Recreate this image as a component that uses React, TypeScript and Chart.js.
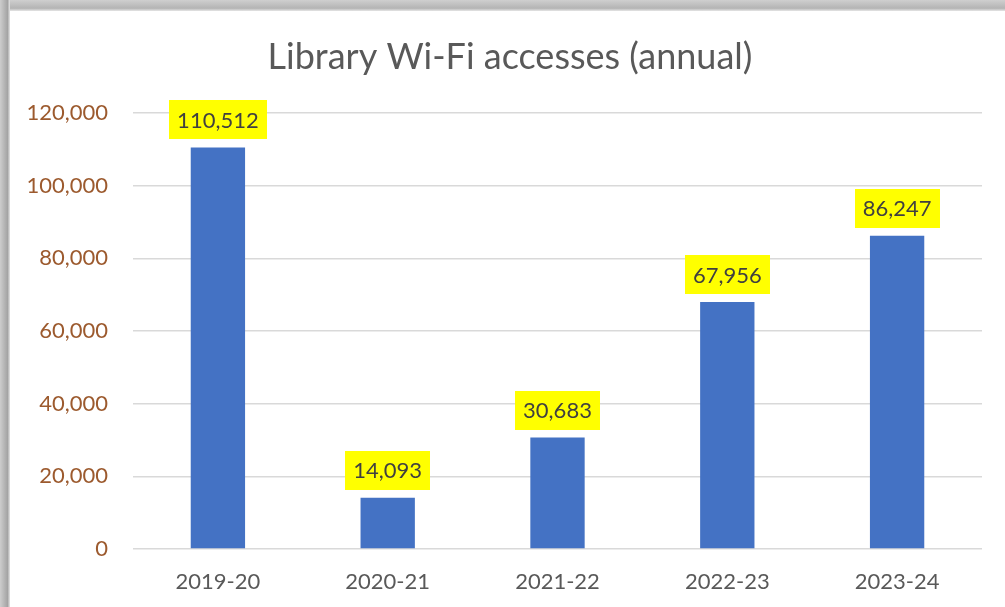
import React, { useEffect, useRef } from "react";
import { Chart, registerables } from "chart.js";

Chart.register(...registerables);

const categories = ["2019-20", "2020-21", "2021-22", "2022-23", "2023-24"];
const accesses = [110512, 14093, 30683, 67956, 86247];
const yTicks = [0, 20000, 40000, 60000, 80000, 100000, 120000];
const titleText = "Library Wi-Fi accesses (annual)";

const FONT = "Lato, 'Open Sans', sans-serif";

const fmt = (v: number) => v.toLocaleString("en-US");

const labelPlugin = {
  id: "yellowLabels",
  afterDatasetsDraw(chart: any) {
    const ctx = chart.ctx;
    const meta = chart.getDatasetMeta(0);
    ctx.save();
    ctx.font = `22px ${FONT}`;
    ctx.textAlign = "center";
    ctx.textBaseline = "middle";
    meta.data.forEach((el: any, i: number) => {
      const txt = fmt(accesses[i]);
      const tw = ctx.measureText(txt).width;
      const w = tw + 16;
      const h = 39;
      const gap = 8;
      const x = el.x;
      const yb = el.y - gap;
      ctx.fillStyle = "#FFFF00";
      ctx.fillRect(Math.round(x - w / 2), Math.round(yb - h), Math.round(w), h);
      ctx.fillStyle = "#404040";
      ctx.fillText(txt, x, yb - h / 2 + 1);
    });
    ctx.restore();
  },
};

const titlePlugin = {
  id: "centeredTitle",
  afterDraw(chart: any) {
    const ctx = chart.ctx;
    ctx.save();
    ctx.font = `36px ${FONT}`;
    ctx.fillStyle = "#595959";
    ctx.textAlign = "center";
    ctx.textBaseline = "middle";
    ctx.fillText(titleText, 510, 57);
    ctx.restore();
  },
};

export default function App() {
  const ref = useRef<HTMLCanvasElement | null>(null);
  useEffect(() => {
    if (!ref.current) return;
    const chart = new Chart(ref.current, {
      type: "bar",
      data: {
        labels: categories,
        datasets: [
          {
            data: accesses,
            backgroundColor: "#4472C4",
            borderWidth: 0,
            categoryPercentage: 1,
            barPercentage: 0.32,
          },
        ],
      },
      options: {
        animation: false,
        responsive: false,
        layout: { padding: { top: 113, right: 23, bottom: 12, left: 0 } },
        plugins: {
          legend: { display: false },
          tooltip: { enabled: false },
          title: { display: false },
        },
        scales: {
          x: {
            grid: { display: false, drawTicks: false },
            border: { display: false },
            afterFit: (s: any) => {
              s.height = 46;
            },
            ticks: {
              color: "#595959",
              font: { family: FONT, size: 22 },
              padding: 20,
              maxRotation: 0,
            },
          },
          y: {
            min: 0,
            max: 120000,
            afterBuildTicks: (s: any) => {
              s.ticks = yTicks.map((v) => ({ value: v }));
            },
            afterFit: (s: any) => {
              s.width = 133;
            },
            grid: { color: "#D9D9D9", lineWidth: 1.5, drawTicks: false },
            border: { display: false },
            ticks: {
              color: "#9C5A2E",
              font: { family: FONT, size: 22 },
              padding: 25,
              callback: (v: any) => fmt(Number(v)),
            },
          },
        },
      },
      plugins: [labelPlugin, titlePlugin],
    });
    return () => chart.destroy();
  }, []);

  return (
    <div
      style={{
        position: "absolute",
        left: 0,
        top: 0,
        width: 1005,
        height: 607,
        background: "#ffffff",
        overflow: "hidden",
      }}
    >
      <div
        style={{
          position: "absolute",
          left: 0,
          top: 0,
          width: 1005,
          height: 11,
          background:
            "linear-gradient(to bottom, #cfcfcf 0%, #b4b4b4 75%, #e6e6e6 100%)",
        }}
      />
      <div
        style={{
          position: "absolute",
          left: 0,
          top: 0,
          width: 10,
          height: 607,
          background:
            "linear-gradient(to right, #cdcdcd 0%, #a4a4a4 75%, #e6e6e6 100%)",
        }}
      />
      <canvas
        ref={ref}
        width={1005}
        height={607}
        style={{ position: "absolute", left: 0, top: 0, display: "block" }}
      />
    </div>
  );
}
